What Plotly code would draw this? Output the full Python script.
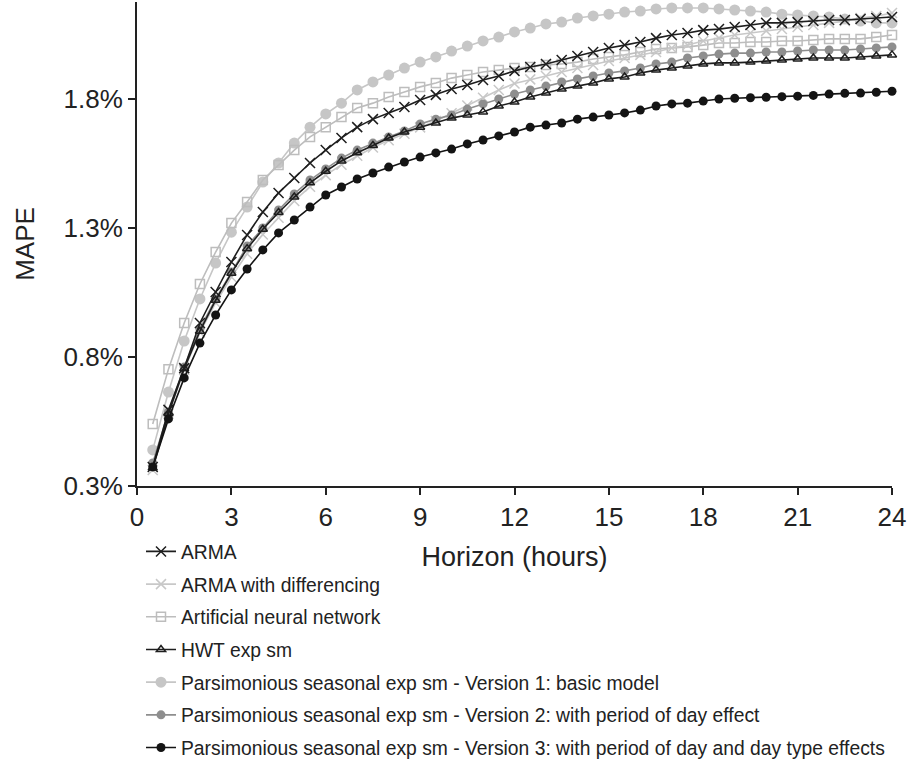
import plotly.graph_objects as go

horizon = [0.5 * i for i in range(1, 49)]

arma = [0.374, 0.595, 0.757, 0.932, 1.052, 1.168, 1.273, 1.362, 1.436, 1.494, 1.552, 1.602,
        1.649, 1.691, 1.722, 1.746, 1.769, 1.796, 1.816, 1.839, 1.854, 1.874, 1.889, 1.909,
        1.924, 1.936, 1.951, 1.967, 1.982, 1.998, 2.009, 2.021, 2.036, 2.048, 2.056, 2.067,
        2.071, 2.079, 2.087, 2.095, 2.095, 2.098, 2.102, 2.106, 2.106, 2.110, 2.114, 2.118]

arma_diff = [0.362, 0.580, 0.750, 0.895, 1.010, 1.110, 1.200, 1.275, 1.340, 1.405, 1.460, 1.505,
             1.545, 1.580, 1.612, 1.640, 1.665, 1.690, 1.715, 1.745, 1.775, 1.805, 1.835, 1.860,
             1.876, 1.889, 1.905, 1.920, 1.932, 1.947, 1.959, 1.971, 1.982, 1.998, 2.009, 2.025,
             2.036, 2.048, 2.056, 2.064, 2.071, 2.079, 2.087, 2.095, 2.102, 2.114, 2.122, 2.133]

ann = [0.540, 0.753, 0.932, 1.083, 1.207, 1.319, 1.401, 1.486, 1.544, 1.602, 1.653, 1.691,
       1.730, 1.765, 1.784, 1.808, 1.827, 1.847, 1.862, 1.881, 1.893, 1.905, 1.912, 1.920,
       1.924, 1.932, 1.936, 1.943, 1.955, 1.963, 1.971, 1.982, 1.994, 1.998, 2.002, 2.009,
       2.017, 2.017, 2.021, 2.021, 2.025, 2.025, 2.029, 2.033, 2.033, 2.033, 2.040, 2.048]

hwt = [0.370, 0.580, 0.755, 0.900, 1.020, 1.125, 1.220, 1.295, 1.360, 1.420, 1.475, 1.520,
       1.560, 1.592, 1.620, 1.649, 1.672, 1.691, 1.707, 1.726, 1.738, 1.750, 1.773, 1.788,
       1.808, 1.823, 1.839, 1.850, 1.862, 1.878, 1.885, 1.901, 1.912, 1.920, 1.928, 1.936,
       1.940, 1.940, 1.943, 1.947, 1.951, 1.955, 1.959, 1.959, 1.959, 1.963, 1.967, 1.971]

pses_v1 = [0.440, 0.664, 0.862, 1.025, 1.164, 1.284, 1.381, 1.478, 1.552, 1.629, 1.691, 1.742,
           1.784, 1.835, 1.866, 1.893, 1.920, 1.943, 1.963, 1.986, 2.005, 2.025, 2.040, 2.060,
           2.075, 2.091, 2.098, 2.114, 2.122, 2.129, 2.137, 2.141, 2.149, 2.153, 2.153, 2.153,
           2.149, 2.145, 2.141, 2.137, 2.129, 2.126, 2.122, 2.118, 2.110, 2.102, 2.095, 2.095]

pses_v2 = [0.389, 0.587, 0.761, 0.909, 1.025, 1.129, 1.230, 1.300, 1.370, 1.432, 1.486, 1.529,
           1.571, 1.602, 1.629, 1.653, 1.676, 1.703, 1.722, 1.738, 1.761, 1.781, 1.800, 1.819,
           1.835, 1.850, 1.866, 1.878, 1.889, 1.901, 1.909, 1.920, 1.936, 1.943, 1.959, 1.967,
           1.974, 1.978, 1.978, 1.982, 1.982, 1.986, 1.990, 1.990, 1.990, 1.994, 1.998, 2.002]

pses_v3 = [0.374, 0.560, 0.719, 0.854, 0.963, 1.060, 1.141, 1.215, 1.281, 1.331, 1.381, 1.428,
           1.459, 1.490, 1.513, 1.536, 1.556, 1.575, 1.591, 1.606, 1.626, 1.641, 1.657, 1.672,
           1.691, 1.699, 1.707, 1.722, 1.730, 1.738, 1.746, 1.757, 1.773, 1.781, 1.784, 1.792,
           1.800, 1.803, 1.805, 1.807, 1.809, 1.811, 1.814, 1.819, 1.822, 1.823, 1.826, 1.830]

x_ticks = [0, 3, 6, 9, 12, 15, 18, 21, 24]
y_ticks = [0.3, 0.8, 1.3, 1.8]

FONT = "Arial, 'Liberation Sans', sans-serif"
TXT = "#222222"

# (name, values, line colour, marker symbol, marker size, marker colour, legend rank) in drawing order
series = [
    ("Parsimonious seasonal exp sm - Version 1: basic model", pses_v1, "#c6c6c6", "circle", 11, "#c6c6c6", 5),
    ("Artificial neural network", ann, "#bdbdbd", "square-open", 9, "#bdbdbd", 3),
    ("ARMA with differencing", arma_diff, "#c8c8c8", "x-thin", 10, "#c8c8c8", 2),
    ("Parsimonious seasonal exp sm - Version 2: with period of day effect", pses_v2, "#8e8e8e", "circle", 9, "#8e8e8e", 6),
    ("HWT exp sm", hwt, "#1e1e1e", "triangle-up-open", 8, "#1e1e1e", 4),
    ("ARMA", arma, "#1e1e1e", "x-thin", 10, "#1e1e1e", 1),
    ("Parsimonious seasonal exp sm - Version 3: with period of day and day type effects", pses_v3, "#141414", "circle", 9, "#141414", 7),
]

fig = go.Figure()
for name, vals, lc, sym, ms, mc, rank in series:
    stroked = ("open" in sym) or ("x" in sym)
    fig.add_trace(go.Scatter(
        x=horizon, y=vals, name=name, mode="lines+markers",
        line=dict(color=lc, width=1.6),
        marker=dict(symbol=sym, size=ms, color=mc,
                    line=dict(color=mc, width=1.5 if stroked else 0)),
        legendrank=rank, legendgroup=name, cliponaxis=False,
    ))

fig.update_layout(
    width=911, height=763,
    margin=dict(l=137, r=19, t=2, b=277, autoexpand=False),
    paper_bgcolor="white", plot_bgcolor="white",
    font=dict(family=FONT, color=TXT, size=26),
    showlegend=True,
    legend=dict(
        x=0.0053, xanchor="left", y=-0.0958, yanchor="top",
        bgcolor="rgba(0,0,0,0)", font=dict(size=19.3, color=TXT, family=FONT),
        tracegroupgap=4.6, traceorder="grouped", itemwidth=30,
    ),
    xaxis=dict(
        range=[0, 24], tickvals=x_ticks, ticktext=[str(v) for v in x_ticks],
        showgrid=False, zeroline=False, showline=True, linecolor="#222222", linewidth=2,
        ticks="outside", ticklen=7, tickwidth=2, tickcolor="#222222",
        tickfont=dict(size=26, color=TXT, family=FONT), automargin=False,
        title=dict(text="Horizon (hours)", font=dict(size=27, color=TXT, family=FONT), standoff=16),
    ),
    yaxis=dict(
        range=[0.3, 2.176], tickvals=y_ticks, ticktext=[f"{v:.1f}%" for v in y_ticks],
        showgrid=False, zeroline=False, showline=True, linecolor="#222222", linewidth=2,
        ticks="outside", ticklen=7, tickwidth=2, tickcolor="#222222",
        tickfont=dict(size=26, color=TXT, family=FONT), automargin=False,
        title=dict(text="MAPE", font=dict(size=26, color=TXT, family=FONT), standoff=21),
    ),
)

fig.write_html("out.html")
